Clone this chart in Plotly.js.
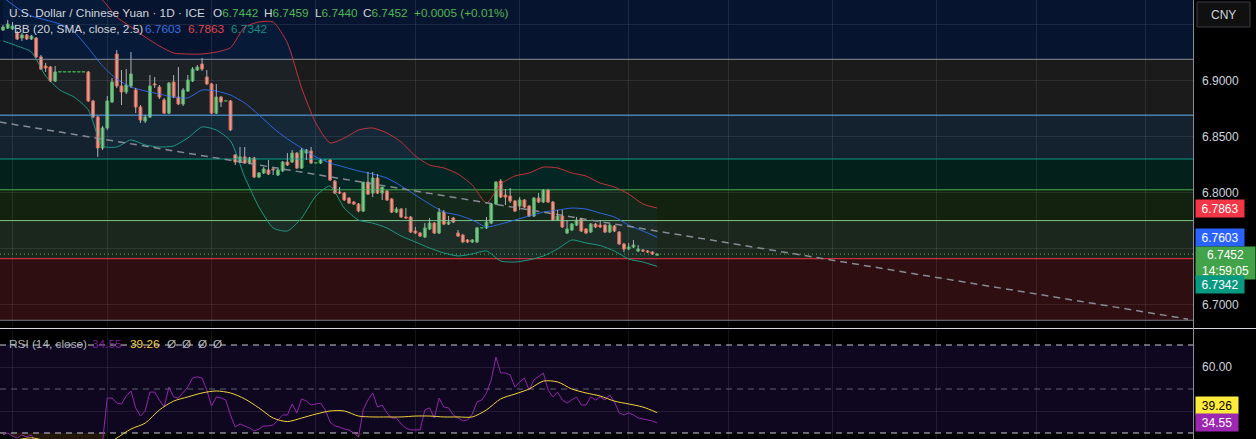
<!DOCTYPE html>
<html><head><meta charset="utf-8">
<script src="https://cdn.plot.ly/plotly-3.0.1.min.js"></script>
<style>html,body{margin:0;padding:0;background:#000;}#chart{width:1256px;height:439px;}</style>
</head><body><div id="chart"></div>
<script>
// ---------- DATA (USD/CNY daily, ICE) ----------
const open = [
6.9453,6.9470,6.9462,6.9426,6.9381,6.9408,6.9372,6.9381,6.9212,6.9131,
6.9122,6.8997,6.9078,6.9078,6.9078,6.9078,6.9078,6.9078,6.9078,6.8819,
6.8676,6.8399,6.8578,6.8810,6.9238,6.8953,6.8899,6.8953,6.8917,6.8765,
6.8640,6.8676,6.8971,6.8944,6.8828,6.8711,6.8988,6.8854,6.8792,6.8908,
6.8997,6.9095,6.9149,6.9033,6.8971,6.8711,6.8854,6.8819,6.8819,6.8337,
6.8274,6.8319,6.8265,6.8310,6.8140,6.8176,6.8203,6.8212,6.8158,6.8194,
6.8274,6.8274,6.8354,6.8220,6.8354,6.8372,6.8265,6.8265,6.8292,6.8292,
6.8104,6.8006,6.7997,6.7952,6.7917,6.7899,6.7836,6.8095,6.7997,6.8131,
6.7997,6.8015,6.7944,6.7827,6.7854,6.7783,6.7783,6.7658,6.7640,6.7604,
6.7676,6.7729,6.7640,6.7827,6.7720,6.7774,6.7640,6.7622,6.7578,6.7560,
6.7560,6.7685,6.7685,6.7729,6.7899,6.8104,6.7979,6.7970,6.7926,6.7881,
6.7935,6.7881,6.7792,6.7952,6.7917,6.8024,6.7917,6.7756,6.7792,6.7640,
6.7667,6.7711,6.7765,6.7676,6.7649,6.7720,6.7711,6.7711,6.7649,6.7703,
6.7649,6.7542,6.7497,6.7515,6.7479,6.7488,6.7479,6.7470,6.7442];
const high = [
6.9497,6.9542,6.9524,6.9444,6.9426,6.9417,6.9408,6.9390,6.9230,6.9158,
6.9131,6.9131,6.9078,6.9078,6.9078,6.9078,6.9078,6.9078,6.9087,6.8828,
6.8685,6.8596,6.8863,6.9024,6.9274,6.9095,6.9104,6.9256,6.8935,6.8783,
6.8694,6.9051,6.9033,6.8962,6.8845,6.8988,6.9051,6.9122,6.8935,6.9051,
6.9122,6.9140,6.9203,6.9095,6.8979,6.8971,6.8863,6.8819,6.8828,6.8345,
6.8408,6.8408,6.8319,6.8319,6.8185,6.8229,6.8292,6.8220,6.8212,6.8283,
6.8354,6.8381,6.8363,6.8399,6.8390,6.8408,6.8265,6.8301,6.8292,6.8301,
6.8113,6.8051,6.8006,6.7961,6.7926,6.7908,6.8095,6.8185,6.8185,6.8167,
6.8051,6.8024,6.7952,6.7872,6.7863,6.7863,6.7792,6.7694,6.7649,6.7729,
6.7774,6.7738,6.7863,6.7845,6.7792,6.7783,6.7667,6.7631,6.7586,6.7586,
6.7694,6.7685,6.7783,6.7908,6.8104,6.8122,6.8033,6.8042,6.7935,6.7961,
6.7944,6.7890,6.7961,6.7997,6.8033,6.8033,6.7926,6.7845,6.7845,6.7756,
6.7729,6.7783,6.7774,6.7685,6.7729,6.7729,6.7756,6.7720,6.7720,6.7711,
6.7658,6.7551,6.7551,6.7578,6.7533,6.7497,6.7488,6.7479,6.7459];
const low = [
6.9444,6.9462,6.9453,6.9363,6.9355,6.9363,6.9363,6.9203,6.9095,6.9078,
6.8988,6.8988,6.9078,6.9078,6.9078,6.9078,6.9078,6.9078,6.8810,6.8667,
6.8319,6.8381,6.8560,6.8801,6.8935,6.8783,6.8881,6.8935,6.8711,6.8622,
6.8622,6.8667,6.8935,6.8837,6.8703,6.8703,6.8845,6.8783,6.8774,6.8899,
6.8988,6.9087,6.9087,6.8962,6.8703,6.8703,6.8765,6.8819,6.8551,6.8247,
6.8265,6.8256,6.8256,6.8131,6.8131,6.8167,6.8158,6.8158,6.8149,6.8185,
6.8238,6.8265,6.8212,6.8212,6.8292,6.8256,6.8265,6.8256,6.8292,6.8104,
6.7988,6.7988,6.7926,6.7899,6.7890,6.7827,6.7827,6.7979,6.7961,6.7988,
6.7935,6.7926,6.7818,6.7818,6.7774,6.7765,6.7640,6.7631,6.7604,6.7595,
6.7667,6.7631,6.7631,6.7711,6.7711,6.7729,6.7604,6.7551,6.7551,6.7551,
6.7551,6.7685,6.7676,6.7720,6.7890,6.7952,6.7890,6.7908,6.7827,6.7845,
6.7863,6.7783,6.7783,6.7908,6.7908,6.7908,6.7747,6.7747,6.7685,6.7631,
6.7658,6.7703,6.7649,6.7631,6.7640,6.7685,6.7685,6.7640,6.7640,6.7649,
6.7533,6.7470,6.7488,6.7506,6.7470,6.7470,6.7462,6.7444,6.7440];
const close = [
6.9479,6.9506,6.9488,6.9372,6.9408,6.9372,6.9399,6.9212,6.9104,6.9113,
6.8997,6.9078,6.9078,6.9078,6.9078,6.9078,6.9078,6.9078,6.8819,6.8676,
6.8399,6.8578,6.8819,6.8988,6.8953,6.8899,6.8962,6.9060,6.8765,6.8649,
6.8676,6.8953,6.8962,6.8854,6.8711,6.8979,6.8854,6.8792,6.8917,6.9006,
6.9104,6.9122,6.9104,6.8971,6.8711,6.8854,6.8810,6.8819,6.8560,6.8274,
6.8319,6.8265,6.8310,6.8140,6.8176,6.8212,6.8167,6.8203,6.8203,6.8274,
6.8247,6.8354,6.8220,6.8381,6.8381,6.8265,6.8265,6.8292,6.8292,6.8113,
6.7997,6.7997,6.7935,6.7908,6.7899,6.7836,6.8095,6.7988,6.8131,6.7997,
6.8051,6.7935,6.7827,6.7854,6.7783,6.7774,6.7649,6.7640,6.7613,6.7685,
6.7729,6.7640,6.7827,6.7720,6.7738,6.7738,6.7613,6.7560,6.7560,6.7578,
6.7685,6.7685,6.7738,6.7899,6.8095,6.7961,6.7961,6.7926,6.7836,6.7935,
6.7872,6.7792,6.7952,6.7917,6.8024,6.7917,6.7756,6.7792,6.7694,6.7676,
6.7720,6.7756,6.7658,6.7640,6.7720,6.7694,6.7694,6.7649,6.7711,6.7658,
6.7542,6.7497,6.7515,6.7533,6.7497,6.7479,6.7470,6.7453,6.7452];

// Bollinger Bands (20, SMA, close, 2.5), read every 3rd bar
const bbBars = [0,3,6,9,12,15,18,21,24,27,30,33,36,39,42,45,48,51,54,57,60,63,66,69,72,75,78,81,84,87,90,93,96,99,102,105,108,111,114,117,120,123,126,129,132,135,138];
const bbUpper = [7.0212,7.0212,7.0167,7.0122,7.0033,6.9944,6.9828,6.9721,6.9569,6.9479,
6.9390,6.9310,6.9247,6.9238,6.9238,6.9256,6.9295,6.9479,6.9524,6.9524,
6.9337,6.8935,6.8622,6.8444,6.8488,6.8560,6.8578,6.8533,6.8453,6.8328,
6.8247,6.8221,6.8167,6.8069,6.7908,6.8078,6.8149,6.8176,6.8229,6.8221,
6.8176,6.8149,6.8086,6.8051,6.7988,6.7899,6.7863];
const bbBasis = [6.9747,6.9649,6.9578,6.9542,6.9506,6.9435,6.9292,6.9131,6.9015,6.8944,
6.8908,6.8881,6.8854,6.8846,6.8917,6.8908,6.8872,6.8801,6.8694,6.8578,
6.8480,6.8399,6.8319,6.8265,6.8229,6.8194,6.8167,6.8131,6.8060,6.7979,
6.7899,6.7827,6.7801,6.7756,6.7694,6.7720,6.7756,6.7792,6.7827,6.7845,
6.7863,6.7854,6.7818,6.7783,6.7711,6.7658,6.7603];
const bbLower = [6.9355,6.9310,6.9256,6.9042,6.8917,6.8854,6.8739,6.8417,6.8408,6.8471,
6.8426,6.8408,6.8417,6.8489,6.8587,6.8560,6.8462,6.8140,6.7872,6.7685,
6.7658,6.7774,6.7970,6.8060,6.7863,6.7756,6.7729,6.7685,6.7613,6.7560,
6.7506,6.7462,6.7435,6.7453,6.7480,6.7390,6.7381,6.7400,6.7435,6.7497,
6.7578,6.7551,6.7528,6.7479,6.7408,6.7381,6.7342];

// RSI (14, close) per bar and its moving average (every 3rd bar)
const rsi = [
29.1,30.0,28.6,27.7,29.1,28.2,29.1,24.0,22.0,23.0,
19.0,24.0,24.0,24.0,24.0,24.0,24.0,24.0,18.0,15.0,
12.0,26.0,45.9,45.9,43.6,43.2,46.8,49.1,41.4,37.7,
40.0,48.6,48.6,45.0,41.8,50.9,46.4,45.9,48.6,50.9,
55.0,55.5,55.0,49.5,42.3,46.4,45.9,45.0,38.2,32.7,
34.1,33.2,32.3,30.9,31.8,33.2,33.2,33.6,35.9,38.2,
38.2,43.2,39.1,45.5,44.5,42.7,43.2,43.6,40.5,35.0,
33.2,32.7,31.8,31.4,30.0,28.2,40.5,45.0,48.2,41.8,
42.7,39.1,36.8,36.8,34.1,32.3,31.4,31.4,31.4,40.5,
41.4,36.8,45.9,41.8,41.4,38.2,36.8,35.5,35.9,38.6,
44.1,45.0,48.2,54.1,64.5,57.3,57.3,56.4,50.9,53.2,
55.0,49.5,54.1,55.5,57.3,49.5,46.4,48.6,45.0,43.6,
45.0,46.4,42.7,42.7,46.4,45.0,46.4,45.0,47.3,44.1,
39.1,38.2,39.1,38.2,36.8,36.4,35.9,35.5,34.55];
const rsiMA = [27.0,27.0,27.8,26.5,25.5,24.5,23.5,24.0,27.7,31.8,
34.5,40.5,44.5,46.4,48.2,49.1,48.2,45.5,41.4,36.8,
35.2,36.8,38.6,40.0,40.0,37.7,37.3,37.3,37.3,37.7,
37.7,37.3,37.3,37.3,40.5,45.5,47.7,50.0,53.6,53.2,
50.0,48.2,46.8,44.5,43.2,41.8,39.26];

// Fibonacci retracement and drawn trend line
const fibLow = 6.6861, fibHigh = 6.9191;
const fibLevels = [0, 0.236, 0.382, 0.5, 0.618, 0.786, 1, 1.618];
const trendBars = [-0.7, 250.0];
const trendPrices = [6.8631, 6.6871];
// first bar of each month (vertical grid)
const monthStartBars = [2, 22, 44, 66, 87, 109, 132, 153, 175, 197, 218, 241];

// ---------- STYLES ----------
const fibLineColors = ['#787b86','#f23645','#81c784','#4caf50','#089981','#64b5f6','#8a8d96'];
const fibBandColors = ['#2e0e10','#1b271c','#12220f','#03201b','#14222f','#1b1b1b','#06142f'];
const xRange = [-0.63, 251.05];
const W = 1193, H = 439;
const px = v => v / W, py = v => 1 - v / H;
const FONT = 'Liberation Sans, Arial, sans-serif';

const n = close.length;
const bars = close.map((_, i) => i);
const isUp = bars.map(i => close[i] >= open[i]);
const fibPrice = l => fibLow + l * (fibHigh - fibLow);

const wickX = [], wickY = [];
bars.forEach(i => { wickX.push(i, i, null); wickY.push(high[i], low[i], null); });

const traces = [];
// fib lines (under candles)
fibLevels.slice(0, -1).forEach((l, k) => traces.push({
  x: xRange, y: [fibPrice(l), fibPrice(l)], type: 'scatter', mode: 'lines',
  line: {color: fibLineColors[k], width: 1}, xaxis: 'x', yaxis: 'y', hoverinfo: 'skip'}));
// current price line
traces.push({x: xRange, y: [close[n-1], close[n-1]], type: 'scatter', mode: 'lines',
  line: {color: '#4caf50', width: 1, dash: '1px,3px'}, hoverinfo: 'skip'});
// Bollinger
traces.push({x: bbBars, y: bbUpper, type: 'scatter', mode: 'lines', line: {color: '#c2343f', width: 1, shape: 'spline', smoothing: 0.6}});
traces.push({x: bbBars, y: bbLower, type: 'scatter', mode: 'lines', line: {color: '#1f9984', width: 1, shape: 'spline', smoothing: 0.6},
  fill: 'tonexty', fillcolor: 'rgba(33,150,243,0.05)'});
traces.push({x: bbBars, y: bbBasis, type: 'scatter', mode: 'lines', line: {color: '#2f66e0', width: 1, shape: 'spline', smoothing: 0.6}});
// trend line
traces.push({x: trendBars, y: trendPrices, type: 'scatter', mode: 'lines',
  line: {color: '#878a94', width: 1.5, dash: '7px,5px'}});
// candles: wicks + bodies
traces.push({x: wickX, y: wickY, type: 'scatter', mode: 'lines', line: {color: '#aeb1ba', width: 1}, connectgaps: false});
traces.push({x: bars, y: bars.map(i => Math.max(Math.abs(close[i] - open[i]), 0.0002)),
  base: bars.map(i => Math.min(open[i], close[i])), type: 'bar', width: 0.62,
  marker: {color: isUp.map(u => u ? '#5ec760' : '#f39a80'),
           line: {color: isUp.map(u => u ? '#3faa4a' : '#ef5338'), width: 1}}});
// RSI pane
traces.push({x: bars, y: bars.map(() => 30), type: 'scatter', mode: 'lines', line: {width: 0}, xaxis: 'x', yaxis: 'y2'});
traces.push({x: bars, y: rsi.map(v => Math.min(v, 30)), type: 'scatter', mode: 'lines', line: {width: 0},
  fill: 'tonexty', fillcolor: 'rgba(150,100,40,0.22)', xaxis: 'x', yaxis: 'y2'});
[[70, '#c9cbd2'], [50, '#5f6270'], [30, '#c9cbd2']].forEach(([v, c]) => traces.push({
  x: xRange, y: [v, v], type: 'scatter', mode: 'lines', line: {color: c, width: 1, dash: '6px,5px'}, xaxis: 'x', yaxis: 'y2'}));
traces.push({x: bars, y: rsi, type: 'scatter', mode: 'lines', line: {color: '#9226ab', width: 1}, xaxis: 'x', yaxis: 'y2'});
traces.push({x: bbBars, y: rsiMA, type: 'scatter', mode: 'lines', line: {color: '#f2d43c', width: 1, shape: 'spline', smoothing: 0.8}, xaxis: 'x', yaxis: 'y2'});

// shapes
const shapes = [];
fibLevels.slice(0, -1).forEach((l, k) => shapes.push({type: 'rect', layer: 'below', xref: 'x', yref: 'y',
  x0: xRange[0], x1: xRange[1], y0: fibPrice(l), y1: fibPrice(fibLevels[k+1]), fillcolor: fibBandColors[k], line: {width: 0}}));
shapes.push({type: 'rect', layer: 'below', xref: 'x', yref: 'y2', x0: xRange[0], x1: xRange[1], y0: 30, y1: 70,
  fillcolor: '#0f0620', line: {width: 0}});
shapes.push({type: 'line', layer: 'above', xref: 'paper', yref: 'paper', x0: 0, x1: 1256 / W, y0: py(328.5), y1: py(328.5),
  line: {color: '#d6d8de', width: 1}});
shapes.push({type: 'line', layer: 'above', xref: 'paper', yref: 'paper', x0: px(1193.5), x1: px(1193.5), y0: 0, y1: 1,
  line: {color: '#8a8d96', width: 1}});
shapes.push({type: 'rect', layer: 'above', xref: 'paper', yref: 'paper', x0: px(1197), x1: px(1250), y0: py(27), y1: py(2),
  fillcolor: '#101010', line: {color: '#3a3c44', width: 1}});

// annotations
const ann = [];
const txt = (x, y, text, color, size, extra) => ann.push(Object.assign({xref: 'paper', yref: 'paper', x: px(x), y: py(y),
  text: text, showarrow: false, xanchor: 'left', yanchor: 'middle', font: {family: FONT, size: size || 11.8, color: color}}, extra || {}));
const G = '#4fb654';
const f4 = v => v.toFixed(4);
txt(7, 12.5, 'U.S. Dollar / Chinese Yuan · 1D · ICE', '#d1d4dc');
txt(211, 12.5, 'O<span style="color:' + G + '">' + f4(open[n-1]) + '</span>', '#d1d4dc');
txt(262, 12.5, 'H<span style="color:' + G + '">' + f4(high[n-1]) + '</span>', '#d1d4dc');
txt(313, 12.5, 'L<span style="color:' + G + '">' + f4(low[n-1]) + '</span>', '#d1d4dc');
txt(361, 12.5, 'C<span style="color:' + G + '">' + f4(close[n-1]) + '</span>', '#d1d4dc');
txt(412, 12.5, '+0.0005 (+0.01%)', G);
txt(12, 29.5, 'BB (20, SMA, close, 2.5)', '#d1d4dc');
txt(143, 29.5, f4(bbBasis[bbBasis.length-1]), '#3b6fe3');
txt(186, 29.5, f4(bbUpper[bbUpper.length-1]), '#e0424d');
txt(229, 29.5, f4(bbLower[bbLower.length-1]), '#1b8c7f');
txt(7, 343.5, 'RSI (14, close)', '#b2b5be');
txt(90, 343.5, rsi[n-1].toFixed(2), '#7a1f95');
txt(128, 343.5, rsiMA[rsiMA.length-1].toFixed(2), '#f2d43c');
[165, 180, 196, 211].forEach(x => txt(x, 343.5, 'Ø', '#b2b5be'));
ann.push({xref: 'paper', yref: 'paper', x: px(1223.5), y: py(14.5), text: 'CNY', showarrow: false,
  xanchor: 'center', yanchor: 'middle', font: {family: FONT, size: 12, color: '#d1d4dc'}});
const lab = (yref, y, text, bg, fg, w, h, yshift, yanchor) => ann.push({xref: 'paper', yref: yref, x: px(1195), y: y,
  text: text, showarrow: false, xanchor: 'left', yanchor: yanchor || 'middle', yshift: yshift || 0,
  bgcolor: bg, borderpad: 2, width: w, height: h, align: 'center', font: {family: FONT, size: 12, color: fg}});
lab('y', bbUpper[bbUpper.length-1], f4(bbUpper[bbUpper.length-1]), '#f23645', '#ffffff', 44, 13);
lab('y', bbBasis[bbBasis.length-1], f4(bbBasis[bbBasis.length-1]), '#2962ff', '#ffffff', 44, 13);
lab('y', close[n-1], f4(close[n-1]) + '<br>14:59:05', '#43a34a', '#ffffff', 55, 28, 8, 'top');
lab('y', bbLower[bbLower.length-1], f4(bbLower[bbLower.length-1]), '#089981', '#ffffff', 44, 13, -18);
lab('y2', rsiMA[rsiMA.length-1], rsiMA[rsiMA.length-1].toFixed(2), '#ffeb3b', '#000000', 38, 13, 7.5);
lab('y2', rsi[n-1], rsi[n-1].toFixed(2), '#9c27b0', '#ffffff', 38, 13);

const grid = 'rgba(255,255,255,0.085)';
const layout = {
  width: 1256, height: 439, margin: {l: 0, r: 63, t: 0, b: 0, pad: 0},
  paper_bgcolor: '#000', plot_bgcolor: '#000', showlegend: false, hovermode: false, dragmode: false,
  bargap: 0,
  xaxis: {domain: [0, 1], range: xRange, anchor: 'y2', showticklabels: false, tickmode: 'array', tickvals: monthStartBars,
    showgrid: true, gridcolor: grid, gridwidth: 1, zeroline: false, showline: false, ticks: ''},
  yaxis: {domain: [py(327) , 1], range: [6.6801, 6.97205], side: 'right', anchor: 'x', tickmode: 'array',
    tickvals: [6.70, 6.75, 6.80, 6.85, 6.90, 6.95], ticktext: ['6.7000', '', '6.8000', '6.8500', '6.9000', ''],
    showgrid: true, gridcolor: grid, zeroline: false, showline: false, ticks: '', ticklabelstandoff: 8,
    tickfont: {family: FONT, size: 12, color: '#d1d4dc'}},
  yaxis2: {domain: [0, py(330)], range: [27.27, 76.82], side: 'right', anchor: 'x', tickmode: 'array',
    tickvals: [40, 60], ticktext: ['', '60.00'], showgrid: true, gridcolor: grid, zeroline: false, showline: false,
    ticks: '', ticklabelstandoff: 8, tickfont: {family: FONT, size: 12, color: '#d1d4dc'}},
  shapes: shapes, annotations: ann
};
Plotly.newPlot('chart', traces, layout, {staticPlot: true, displayModeBar: false});
</script></body></html>
